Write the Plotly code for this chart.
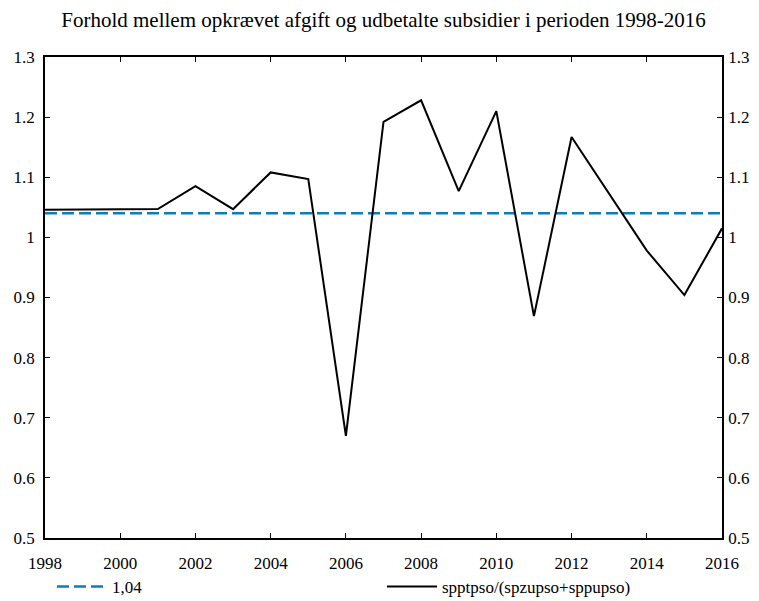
import plotly.graph_objects as go

years = list(range(1998, 2017))
ratio = [1.046, 1.046, 1.047, 1.047, 1.085, 1.047, 1.108, 1.097, 0.670, 1.192,
         1.228, 1.077, 1.210, 0.869, 1.167, 1.072, 0.978, 0.904, 1.015]
ref_value = 1.04
ref_label = "1,04"
series_label = "spptpso/(spzupso+sppupso)"
title = "Forhold mellem opkrævet afgift og udbetalte subsidier i perioden 1998-2016"
xticks = list(range(1998, 2017, 2))
yticks = [0.5, 0.6, 0.7, 0.8, 0.9, 1.0, 1.1, 1.2, 1.3]
yticktext = ["0.5", "0.6", "0.7", "0.8", "0.9", "1", "1.1", "1.2", "1.3"]

font = "Liberation Serif, Times New Roman, serif"
W, H = 751, 593  # page body adds an 8px margin

fig = go.Figure()
fig.add_trace(go.Scatter(x=years, y=[ref_value] * len(years), mode="lines",
                         name=ref_label,
                         line=dict(color="#0f7bbf", width=2.5, dash="12px,5px")))
fig.add_trace(go.Scatter(x=years, y=ratio, mode="lines", name=series_label,
                         line=dict(color="black", width=2)))
fig.add_trace(go.Scatter(x=years, y=ratio, mode="lines", yaxis="y2",
                         showlegend=False, hoverinfo="skip",
                         line=dict(color="rgba(0,0,0,0)", width=0)))

axis_common = dict(showgrid=False, zeroline=False, showline=True, linecolor="black",
                   linewidth=1.5, ticks="inside", ticklen=5, tickcolor="black",
                   automargin=False,
                   tickfont=dict(family=font, size=17, color="black"))

fig.update_layout(
    width=W, height=H,
    margin=dict(l=37, r=37, t=49, b=63),
    paper_bgcolor="white", plot_bgcolor="white",
    title=dict(text=title, x=0.5, xanchor="center", y=1 - 12 / H, yanchor="middle",
               font=dict(family=font, size=21, color="black")),
    font=dict(family=font, color="black", size=17),
    xaxis=dict(range=[1998, 2016], tickvals=xticks, mirror="ticks",
               ticklabelstandoff=9, **axis_common),
    yaxis=dict(range=[0.5, 1.3], tickvals=yticks, ticktext=yticktext, mirror="ticks",
               ticklabelstandoff=5, **axis_common),
    yaxis2=dict(range=[0.5, 1.3], tickvals=yticks, ticktext=yticktext, overlaying="y",
                side="right", ticklabelstandoff=1, **axis_common),
    legend=dict(orientation="h", xref="container", yref="container",
                x=44 / W, xanchor="left", y=1 - 579 / H, yanchor="middle",
                font=dict(family=font, size=17, color="black"),
                itemwidth=50, entrywidth=265, entrywidthmode="pixels",
                bgcolor="rgba(0,0,0,0)"),
    showlegend=True,
)

fig.write_html("out.html")
